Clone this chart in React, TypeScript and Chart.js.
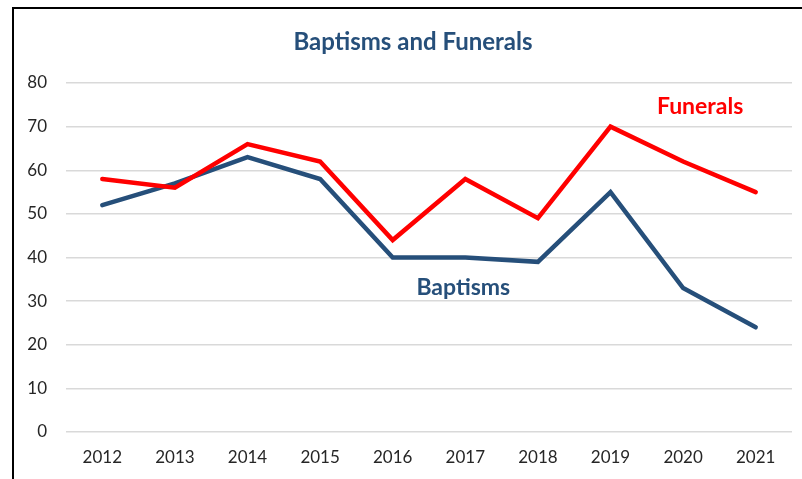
import React, { useEffect, useRef } from "react";
import { Chart, registerables } from "chart.js";

Chart.register(...registerables);

const categories = ["2012", "2013", "2014", "2015", "2016", "2017", "2018", "2019", "2020", "2021"];
const baptisms = [52, 57, 63, 58, 40, 40, 39, 55, 33, 24];
const funerals = [58, 56, 66, 62, 44, 58, 49, 70, 62, 55];
const chartTitle = "Baptisms and Funerals";
const funeralsLabel = "Funerals";
const baptismsLabel = "Baptisms";

const BLUE = "#264F7A";
const RED = "#FF0000";
const FONT = "Lato, 'Open Sans', sans-serif";

const textPlugin = {
  id: "textPlugin",
  afterDraw(chart: any) {
    const ctx = chart.ctx;
    const x = chart.scales.x;
    const y = chart.scales.y;
    ctx.save();
    ctx.textAlign = "center";
    ctx.textBaseline = "middle";
    ctx.font = "bold 24px " + FONT;
    ctx.fillStyle = BLUE;
    ctx.fillText(chartTitle, 399, 33);
    ctx.font = "bold 23px " + FONT;
    ctx.fillStyle = RED;
    ctx.fillText(funeralsLabel, x.getPixelForValue(8) + 17, y.getPixelForValue(74.5));
    ctx.fillStyle = BLUE;
    ctx.fillText(baptismsLabel, x.getPixelForValue(5) - 2, y.getPixelForValue(33.2));
    ctx.restore();
  },
};

export default function App() {
  const ref = useRef<HTMLCanvasElement | null>(null);
  useEffect(() => {
    if (!ref.current) return;
    const chart = new Chart(ref.current, {
      type: "line",
      data: {
        labels: categories,
        datasets: [
          {
            label: funeralsLabel,
            data: funerals,
            borderColor: RED,
            backgroundColor: RED,
            borderWidth: 4.5,
            pointRadius: 0,
            tension: 0,
            borderCapStyle: "round",
          },
          {
            label: baptismsLabel,
            data: baptisms,
            borderColor: BLUE,
            backgroundColor: BLUE,
            borderWidth: 4.5,
            pointRadius: 0,
            tension: 0,
            borderCapStyle: "round",
          },
        ],
      },
      options: {
        animation: false,
        responsive: false,
        devicePixelRatio: 1,
        layout: { padding: { top: 74, right: 10, left: 0, bottom: 0 } },
        plugins: { legend: { display: false }, tooltip: { enabled: false }, title: { display: false } },
        scales: {
          x: {
            offset: true,
            grid: { display: false, drawTicks: false },
            border: { display: false },
            ticks: { color: "#262626", font: { family: FONT, size: 17 }, padding: 15, maxRotation: 0 },
            afterFit(scale: any) {
              scale.height = 47;
            },
          },
          y: {
            min: 0,
            max: 80,
            ticks: { stepSize: 10, color: "#262626", font: { family: FONT, size: 17 }, padding: 19 },
            grid: { color: "#D9D9D9", lineWidth: 1.5, drawTicks: false },
            border: { display: false },
            afterFit(scale: any) {
              scale.width = 52;
            },
          },
        },
      },
      plugins: [textPlugin],
    });
    return () => chart.destroy();
  }, []);
  return (
    <div
      style={{
        position: "absolute",
        left: 12,
        top: 7,
        width: 790,
        height: 472,
        borderTop: "2px solid #000",
        borderLeft: "2px solid #000",
        background: "#fff",
        boxSizing: "border-box",
      }}
    >
      <canvas ref={ref} width={788} height={470} style={{ display: "block" }} />
    </div>
  );
}
